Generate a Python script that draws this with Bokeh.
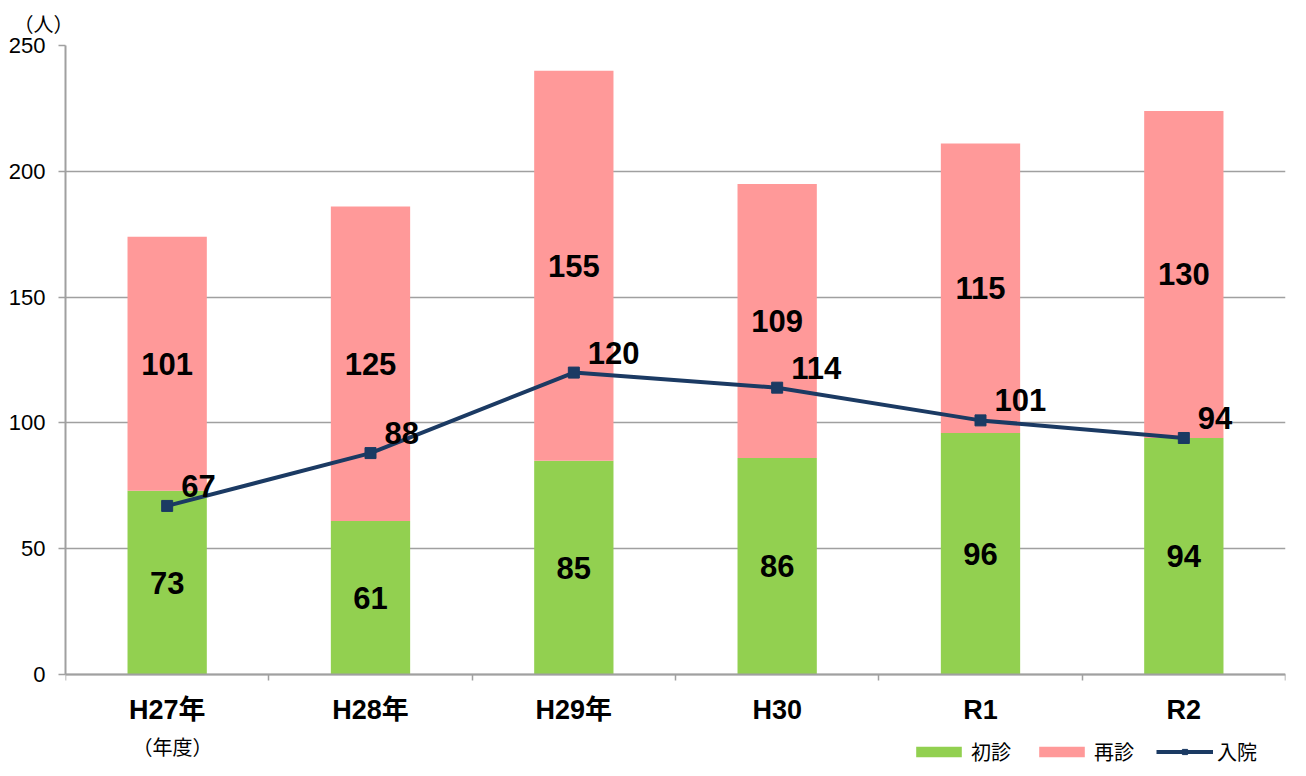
from bokeh.plotting import figure
from bokeh.models import FixedTicker, Legend, LegendItem, Range1d
from bokeh.core.properties import value
from bokeh.embed import file_html
from bokeh.resources import INLINE

categories = ["H27年", "H28年", "H29年", "H30", "R1", "R2"]
first_visit = [73, 61, 85, 86, 96, 94]      # 初診
revisit = [101, 125, 155, 109, 115, 130]    # 再診
inpatient = [67, 88, 120, 114, 101, 94]     # 入院
y_ticks = [0, 50, 100, 150, 200, 250]
series_names = ["初診", "再診", "入院"]

GREEN = "#92D050"
PINK = "#FF9999"
NAVY = "#1B3A63"
GRID = "#A0A0A0"
LAT = "Liberation Sans, Noto Sans CJK JP"

x = [i + 0.5 for i in range(len(categories))]
tops = [a + b for a, b in zip(first_visit, revisit)]

# frame: 0 at 674px, 250 at 45px; frame extended to the canvas bottom (776px)
y_low = -250 * (776 - 674) / (674 - 45)

p = figure(width=1306, height=776, x_range=Range1d(0, len(categories)),
           y_range=Range1d(y_low, 250), output_backend="svg", toolbar_location=None,
           min_border_left=65, min_border_right=21, min_border_top=45,
           min_border_bottom=0)
p.outline_line_color = None
p.xgrid.visible = False
p.ygrid.grid_line_color = GRID
p.ygrid.grid_line_width = 1.5

# unit label above the y axis
p.title.text = "（人）"
p.title.align = "left"
p.title.offset = -52
p.title.text_font = LAT
p.title.text_font_size = "20px"
p.title.text_font_style = "normal"
p.title.text_color = "black"
p.title.standoff = 19

# axes
p.yaxis.ticker = FixedTicker(ticks=y_ticks)
p.yaxis.bounds = (0, 250)
p.yaxis.axis_line_color = GRID
p.yaxis.axis_line_width = 2
p.yaxis.major_tick_line_color = GRID
p.yaxis.major_tick_line_width = 1.5
p.yaxis.major_tick_in = 0
p.yaxis.major_tick_out = 7
p.yaxis.minor_tick_line_color = None
p.yaxis.major_label_text_font = LAT
p.yaxis.major_label_text_font_size = "22px"
p.yaxis.major_label_text_color = "black"
p.yaxis.major_label_standoff = 13

p.xaxis.fixed_location = 0
p.xaxis.ticker = FixedTicker(ticks=x, minor_ticks=list(range(len(categories) + 1)))
p.xaxis.major_label_overrides = {xv: c for xv, c in zip(x, categories)}
p.xaxis.axis_line_color = GRID
p.xaxis.axis_line_width = 2
p.xaxis.major_tick_line_color = None
p.xaxis.minor_tick_line_color = GRID
p.xaxis.minor_tick_line_width = 1.5
p.xaxis.minor_tick_in = 0
p.xaxis.minor_tick_out = 6
p.xaxis.major_label_text_font = LAT
p.xaxis.major_label_text_font_style = "bold"
p.xaxis.major_label_text_font_size = "27px"
p.xaxis.major_label_text_color = "black"
p.xaxis.major_label_standoff = 14

bw = 0.39
g_bar = p.vbar(x=x, width=bw, bottom=0, top=first_visit, fill_color=GREEN, line_color=None)
r_bar = p.vbar(x=x, width=bw, bottom=first_visit, top=tops, fill_color=PINK, line_color=None)
ln = p.line(x=x, y=inpatient, line_color=NAVY, line_width=4)
mk = p.scatter(x=x, y=inpatient, marker="square", size=11, fill_color=NAVY, line_color=NAVY)

lab_font = value("Liberation Sans")
p.text(x=x, y=[v / 2 for v in first_visit], text=[str(v) for v in first_visit],
       text_align="center", text_baseline="middle", text_font=lab_font,
       text_font_style="bold", text_font_size="31px", text_color="black")
p.text(x=x, y=[a + b / 2 for a, b in zip(first_visit, revisit)], text=[str(v) for v in revisit],
       text_align="center", text_baseline="middle", text_font=lab_font,
       text_font_style="bold", text_font_size="31px", text_color="black")
p.text(x=x, y=inpatient, text=[str(v) for v in inpatient], x_offset=14, y_offset=-20,
       text_align="left", text_baseline="middle", text_font=lab_font,
       text_font_style="bold", text_font_size="31px", text_color="black")

# "（年度）" note under the first category
p.text(x=[0.526], y=[-29.4], text=["（年度）"], text_align="center", text_baseline="middle",
       text_font=value(LAT), text_font_size="20px", text_color="black")

legend = Legend(items=[LegendItem(label=series_names[0], renderers=[g_bar]),
                       LegendItem(label=series_names[1], renderers=[r_bar]),
                       LegendItem(label=series_names[2], renderers=[ln, mk])],
                location=(845, 10), orientation="horizontal",
                glyph_width=57, glyph_height=13, label_standoff=4, spacing=22,
                padding=0, margin=0, border_line_color=None, background_fill_alpha=0,
                label_text_font=LAT, label_text_font_size="20px", label_text_color="black",
                label_height=20)
p.add_layout(legend, "center")

open("out.html", "w").write(file_html(p, INLINE))
